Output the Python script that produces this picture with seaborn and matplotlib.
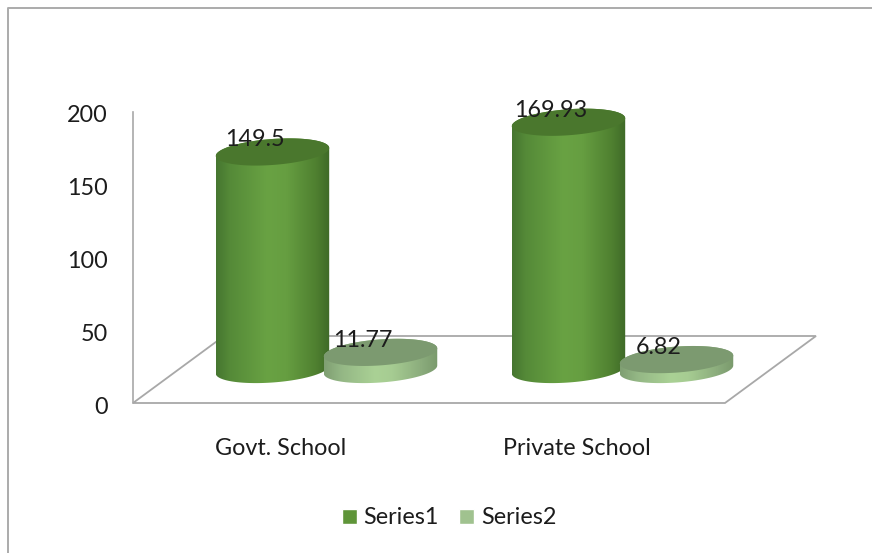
#!/usr/bin/env python3
import matplotlib as mpl
mpl.use('Agg')
import matplotlib.pyplot as plt
from matplotlib.colors import LinearSegmentedColormap
from matplotlib.lines import Line2D
from matplotlib.patches import Polygon
from matplotlib.transforms import ScaledTranslation
import numpy as np
import pandas as pd
import seaborn as sns

schools = ['Govt. School', 'Private School']
series_names = ['Series1', 'Series2']
series1 = [149.5, 169.93]
series2 = [11.77, 6.82]
y_ticks = [0, 50, 100, 150, 200]

W, H = 872, 553
# plot box of the front plane, pixels
LEFT, RIGHT, BASE, TOP = 133, 725, 403, 112
# half of the floor depth, the bars stand in the middle of it
DX, DY = 45.5, 33.5
TEXT = '#1c1c1c'
GRID = '#a8a8a8'
FS = 16.8

sns.set_theme(style='white')
plt.rcParams['font.family'] = ['Lato', 'DejaVu Sans']

df = pd.DataFrame({
    'school': schools * 2,
    'series': [series_names[0]] * 2 + [series_names[1]] * 2,
    'value': series1 + series2,
})

fig = plt.figure(figsize=(W / 100, H / 100), dpi=100, facecolor='white')


def box(dx=0, dy=0):
    return [(LEFT + dx) / W, 1 - (BASE - dy) / H, (RIGHT - LEFT) / W, (BASE - TOP) / H]


ax = fig.add_axes(box())
ax_bars = fig.add_axes(box(DX, DY))
ax_bars.patch.set_alpha(0)

# only used for the category scale of the front plane
sns.barplot(data=df, x='school', y='value', ax=ax, alpha=0, legend=False, errorbar=None)
for p in ax.patches:
    p.set_visible(False)
ax.set_xlim(-0.5, 1.5)
ax.set_ylim(0, 200)
ax.set_yticks(y_ticks)
ax.set_xlabel('')
ax.set_ylabel('')
ax.tick_params(axis='y', length=0, pad=18, labelsize=FS, labelcolor=TEXT)
ax.tick_params(axis='x', length=0, pad=25, labelsize=FS, labelcolor=TEXT)
# the value labels sit a little under their gridline height in the reference
shift = ScaledTranslation(0, -2 / 100, fig.dpi_scale_trans)
for label in ax.get_yticklabels():
    label.set_transform(label.get_transform() + shift)
for name in ['top', 'right', 'bottom']:
    ax.spines[name].set_visible(False)
ax.spines['left'].set_color(GRID)
ax.spines['left'].set_linewidth(1.2)

# floor of the 3d box
ppx = 2.0 / (RIGHT - LEFT)
ppy = 200.0 / (BASE - TOP)
dx_d, dy_d = 2 * DX * ppx, 2 * DY * ppy
floor = [(-0.5, 0), (1.5, 0), (1.5 + dx_d, dy_d), (-0.5 + dx_d, dy_d)]
ax.add_patch(Polygon(floor, closed=True, fill=False, edgecolor=GRID, linewidth=1.3,
                     clip_on=False, zorder=1))

palette = {'Series1': '#5f9539', 'Series2': '#a0c28f'}
sns.barplot(data=df, x='school', y='value', hue='series', palette=palette, ax=ax_bars,
            width=0.73, gap=-0.05, saturation=1, errorbar=None)

styles = {
    'Series1': ([(0, '#467630'), (0.12, '#558a38'), (0.45, '#69a243'), (0.62, '#669e41'),
                 (0.88, '#4f8030'), (1, '#3f6a28')], '#4a772d'),
    'Series2': ([(0, '#7f9f72'), (0.15, '#94b785'), (0.45, '#aad195'), (0.6, '#a6cc92'),
                 (0.85, '#8cad7d'), (1, '#7a9a6d')], '#7c9a70'),
}
EH = 13 * ppy
ES = 4 * ppy

for i, name in enumerate(series_names):
    colors, top_color = styles[name]
    cmap = LinearSegmentedColormap.from_list(name, colors)
    bars = ax_bars.patches[i * 2:i * 2 + 2]
    for j, bar in enumerate(bars):
        bar.set_visible(False)
        x0, w, val = bar.get_x(), bar.get_width(), bar.get_height()
        cx, a = x0 + w / 2, w / 2
        t_low = np.linspace(np.pi, 2 * np.pi, 60)
        t_up = np.linspace(0, np.pi, 60)
        low = np.c_[cx + a * np.cos(t_low), EH * np.sin(t_low) + ES * np.cos(t_low)]
        up = np.c_[cx + a * np.cos(t_up), val + EH * np.sin(t_up) + ES * np.cos(t_up)]
        body = Polygon(np.r_[low, up], closed=True, transform=ax_bars.transData)
        z = 3 + i * 2
        im = ax_bars.imshow(np.linspace(0, 1, 200).reshape(1, -1), cmap=cmap, aspect='auto',
                            extent=(x0, x0 + w, -EH - ES, val + EH + ES), zorder=z,
                            interpolation='bilinear')
        im.set_clip_path(body)
        im.set_clip_box(fig.bbox)
        t = np.linspace(0, 2 * np.pi, 120)
        lid = np.c_[cx + a * np.cos(t), val + EH * np.sin(t) + ES * np.cos(t)]
        ax_bars.add_patch(Polygon(lid, closed=True, facecolor=top_color, edgecolor='none',
                                  zorder=z + 0.5, clip_on=False))
        ax_bars.annotate(str(val), (cx, val), xytext=(-18, 12), textcoords='offset pixels',
                         ha='center', va='center', fontsize=FS, color=TEXT, zorder=10,
                         annotation_clip=False)

ax_bars.set_xlim(-0.5, 1.5)
ax_bars.set_ylim(0, 200)
ax_bars.axis('off')

sns.move_legend(ax_bars, 'center', bbox_to_anchor=(449 / W, 1 - 518 / H),
                bbox_transform=fig.transFigure, ncol=2, frameon=False, title=None,
                fontsize=FS, handlelength=0.65, handleheight=0.65, handletextpad=0.3,
                columnspacing=0.85, labelcolor=TEXT)

# picture frame, only top and left are inside the crop
fig.add_artist(Line2D([7.5 / W, 7.5 / W, 1], [0, 1 - 7.5 / H, 1 - 7.5 / H],
                      color='#ababab', linewidth=1.4))

fig.savefig('out.png', dpi=100)
